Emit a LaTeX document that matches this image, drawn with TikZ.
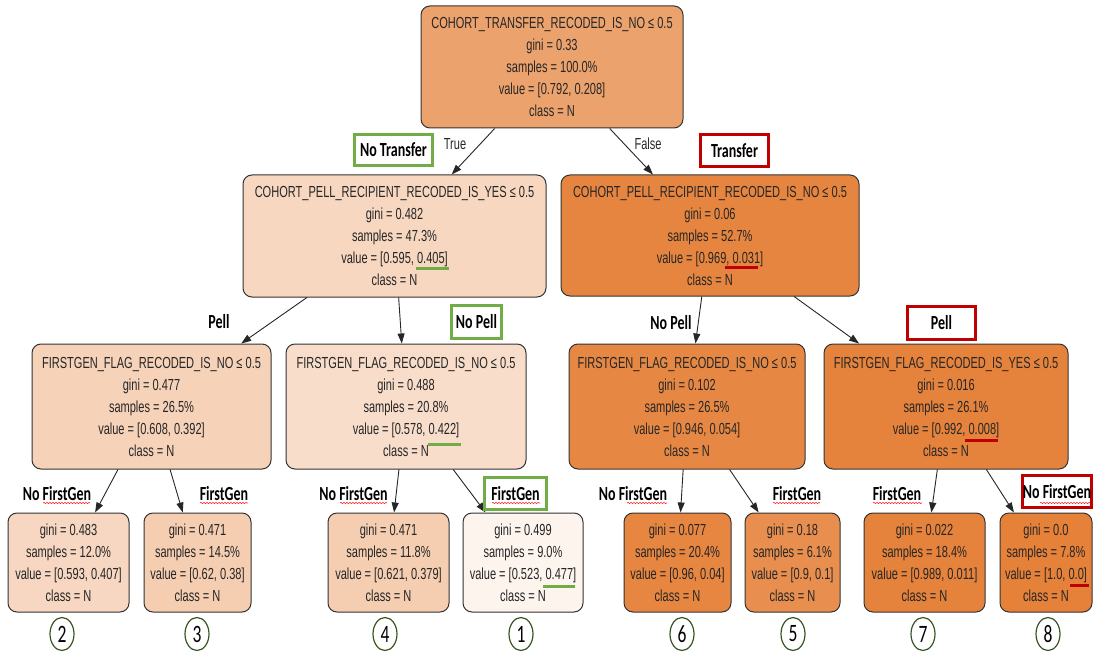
\documentclass[tikz,border=0pt]{standalone}
\usepackage{fontspec}
\setmainfont{Liberation Sans}[FakeStretch=0.69]
\newfontfamily\tagfont{Carlito}[FakeStretch=0.7]
\usetikzlibrary{arrows.meta,shapes.geometric,decorations.pathmorphing}

\definecolor{cRoot}{RGB}{236,162,109}
\definecolor{cL}{RGB}{247,215,192}
\definecolor{cR}{RGB}{230,133,63}
\definecolor{cLL}{RGB}{246,210,185}
\definecolor{cLR}{RGB}{248,221,202}
\definecolor{cRL}{RGB}{230,136,68}
\definecolor{cRR}{RGB}{229,130,59}
\definecolor{cA}{RGB}{247,215,193}
\definecolor{cB}{RGB}{245,206,178}
\definecolor{cC}{RGB}{245,206,178}
\definecolor{cD}{RGB}{253,244,238}
\definecolor{cE}{RGB}{230,134,65}
\definecolor{cF}{RGB}{232,143,79}
\definecolor{cG}{RGB}{229,130,59}
\definecolor{cH}{RGB}{229,129,57}
\definecolor{grn}{RGB}{112,173,71}
\definecolor{rd}{RGB}{192,0,0}
\definecolor{ringgrn}{RGB}{55,86,35}

\newcommand{\leafinfo}[3]{gini = #1\\samples = #2\\value = [#3]\\class = N}

\tikzset{
  tree/.style={draw=black!80, line width=1pt, rounded corners=9pt, align=center,
    inner sep=0pt, text=black!85, font=\fontsize{16}{22}\selectfont},
  edge/.style={draw=black!85, line width=0.9pt, -{Triangle[length=10pt,width=7pt]}},
  tag/.style={font=\tagfont\bfseries\fontsize{20}{20}\selectfont, inner sep=0pt},
  tagbox/.style={tag, draw=#1, line width=3pt},
  uline/.style={draw=#1, line width=3pt},
  spell/.style={draw=red!85, line width=0.6pt, decorate,
    decoration={snake, segment length=3pt, amplitude=0.7pt}},
  ring/.style={ellipse, draw=ringgrn, line width=1.2pt, minimum width=24pt,
    minimum height=33pt, inner sep=0pt, font=\tagfont\fontsize{25}{25}\selectfont}
}

\begin{document}
\begin{tikzpicture}[x=1pt,y=-1pt]
  \useasboundingbox (0,0) rectangle (1094,655);

  % splits
  \node[tree, fill=cRoot, minimum width=262pt, minimum height=122pt] (root) at (552,67)
    {COHORT\_TRANSFER\_RECODED\_IS\_NO ≤ 0.5\\gini = 0.33\\samples = 100.0\%\\value = [0.792, 0.208]\\class = N};
  \node[tree, fill=cL, minimum width=303pt, minimum height=122pt] (nt) at (394.5,236)
    {COHORT\_PELL\_RECIPIENT\_RECODED\_IS\_YES ≤ 0.5\\gini = 0.482\\samples = 47.3\%\\value = [0.595, 0.405]\\class = N};
  \node[tree, fill=cR, minimum width=298pt, minimum height=121pt] (tr) at (710,235.5)
    {COHORT\_PELL\_RECIPIENT\_RECODED\_IS\_NO ≤ 0.5\\gini = 0.06\\samples = 52.7\%\\value = [0.969, 0.031]\\class = N};
  \node[tree, fill=cLL, minimum width=239pt, minimum height=125pt] (ntp) at (151.5,406.5)
    {FIRSTGEN\_FLAG\_RECODED\_IS\_NO ≤ 0.5\\gini = 0.477\\samples = 26.5\%\\value = [0.608, 0.392]\\class = N};
  \node[tree, fill=cLR, minimum width=240pt, minimum height=125pt] (ntnp) at (406,406.5)
    {FIRSTGEN\_FLAG\_RECODED\_IS\_NO ≤ 0.5\\gini = 0.488\\samples = 20.8\%\\value = [0.578, 0.422]\\class = N};
  \node[tree, fill=cRL, minimum width=236pt, minimum height=125pt] (trnp) at (687,406.5)
    {FIRSTGEN\_FLAG\_RECODED\_IS\_NO ≤ 0.5\\gini = 0.102\\samples = 26.5\%\\value = [0.946, 0.054]\\class = N};
  \node[tree, fill=cRR, minimum width=244pt, minimum height=125pt] (trp) at (946,406.5)
    {FIRSTGEN\_FLAG\_RECODED\_IS\_YES ≤ 0.5\\gini = 0.016\\samples = 26.1\%\\value = [0.992, 0.008]\\class = N};

  % leaves
  \node[tree, fill=cA, minimum width=121pt, minimum height=99pt] (leafA) at (68.5,562.5) {\leafinfo{0.483}{12.0\%}{0.593, 0.407}};
  \node[tree, fill=cB, minimum width=107pt, minimum height=99pt] (leafB) at (197.5,562.5) {\leafinfo{0.471}{14.5\%}{0.62, 0.38}};
  \node[tree, fill=cC, minimum width=121pt, minimum height=99pt] (leafC) at (388.5,562.5) {\leafinfo{0.471}{11.8\%}{0.621, 0.379}};
  \node[tree, fill=cD, minimum width=120pt, minimum height=99pt] (leafD) at (523,562.5) {\leafinfo{0.499}{9.0\%}{0.523, 0.477}};
  \node[tree, fill=cE, minimum width=107pt, minimum height=99pt] (leafE) at (677.5,562.5) {\leafinfo{0.077}{20.4\%}{0.96, 0.04}};
  \node[tree, fill=cF, minimum width=95pt, minimum height=99pt] (leafF) at (792.5,562.5) {\leafinfo{0.18}{6.1\%}{0.9, 0.1}};
  \node[tree, fill=cG, minimum width=121pt, minimum height=99pt] (leafG) at (924.5,562.5) {\leafinfo{0.022}{18.4\%}{0.989, 0.011}};
  \node[tree, fill=cH, minimum width=92pt, minimum height=99pt] (leafH) at (1046,562.5) {\leafinfo{0.0}{7.8\%}{1.0, 0.0}};

  % edges
  \draw[edge] (root) -- (nt);  \draw[edge] (root) -- (tr);
  \draw[edge] (nt) -- (ntp);   \draw[edge] (nt) -- (ntnp);
  \draw[edge] (tr) -- (trnp);  \draw[edge] (tr) -- (trp);
  \draw[edge] (ntp) -- (leafA);  \draw[edge] (ntp) -- (leafB);
  \draw[edge] (ntnp) -- (leafC); \draw[edge] (ntnp) -- (leafD);
  \draw[edge] (trnp) -- (leafE); \draw[edge] (trnp) -- (leafF);
  \draw[edge] (trp) -- (leafG);  \draw[edge] (trp) -- (leafH);

  \node[font=\fontsize{16}{16}\selectfont, text=black!85] (true) at (455,144) {True};
  \node[font=\fontsize{16}{16}\selectfont, text=black!85] (false) at (648,144) {False};

  % branch tags
  \node[tagbox=grn, minimum width=78pt, minimum height=31pt] (tNT) at (393.5,150) {No Transfer};
  \node[tagbox=rd, minimum width=68pt, minimum height=32pt] (tT) at (734.5,150.5) {Transfer};
  \node[tag] (tP1) at (219,322) {Pell};
  \node[tagbox=grn, minimum width=50pt, minimum height=33pt] (tNP1) at (476.5,322) {No Pell};
  \node[tag] (tNP2) at (671,323) {No Pell};
  \node[tagbox=rd, minimum width=68pt, minimum height=33pt] (tP2) at (941.5,323) {Pell};
  \node[tag] (tA) at (57,494) {No FirstGen};
  \node[tag] (tB) at (224,494) {FirstGen};
  \node[tag] (tC) at (353.5,494) {No FirstGen};
  \node[tagbox=grn, minimum width=62pt, minimum height=32pt] (tD) at (515.5,493.5) {FirstGen};
  \node[tag] (tE) at (633,494) {No FirstGen};
  \node[tag] (tF) at (797,494) {FirstGen};
  \node[tag] (tG) at (897,494) {FirstGen};
  \node[tagbox=rd, minimum width=69pt, minimum height=32pt] (tH) at (1057,491.5) {No FirstGen};

  % spell-check marks
  \foreach \a/\b in {43/90, 200/248, 340/387, 492/540, 627/667, 773/820, 873/922, 1040/1090}
    \draw[spell] (\a,503) -- (\b,503);

  % highlighted values
  \draw[uline=grn] (416,268) -- (449,268);
  \draw[uline=grn] (428,444) -- (461,444);
  \draw[uline=grn] (543,586) -- (575,586);
  \draw[uline=rd] (725,267) -- (758,267);
  \draw[uline=rd] (965,440) -- (998,440);
  \draw[uline=rd] (1070,585) -- (1089,585);

  % leaf ranks
  \node[ring] (r2) at (62,634) {2};
  \node[ring] (r3) at (197,634) {3};
  \node[ring] (r4) at (385,634) {4};
  \node[ring] (r1) at (521,634) {1};
  \node[ring] (r6) at (682,634) {6};
  \node[ring] (r5) at (793,634) {5};
  \node[ring] (r7) at (923,634) {7};
  \node[ring] (r8) at (1048,634) {8};
\end{tikzpicture}
\end{document}
